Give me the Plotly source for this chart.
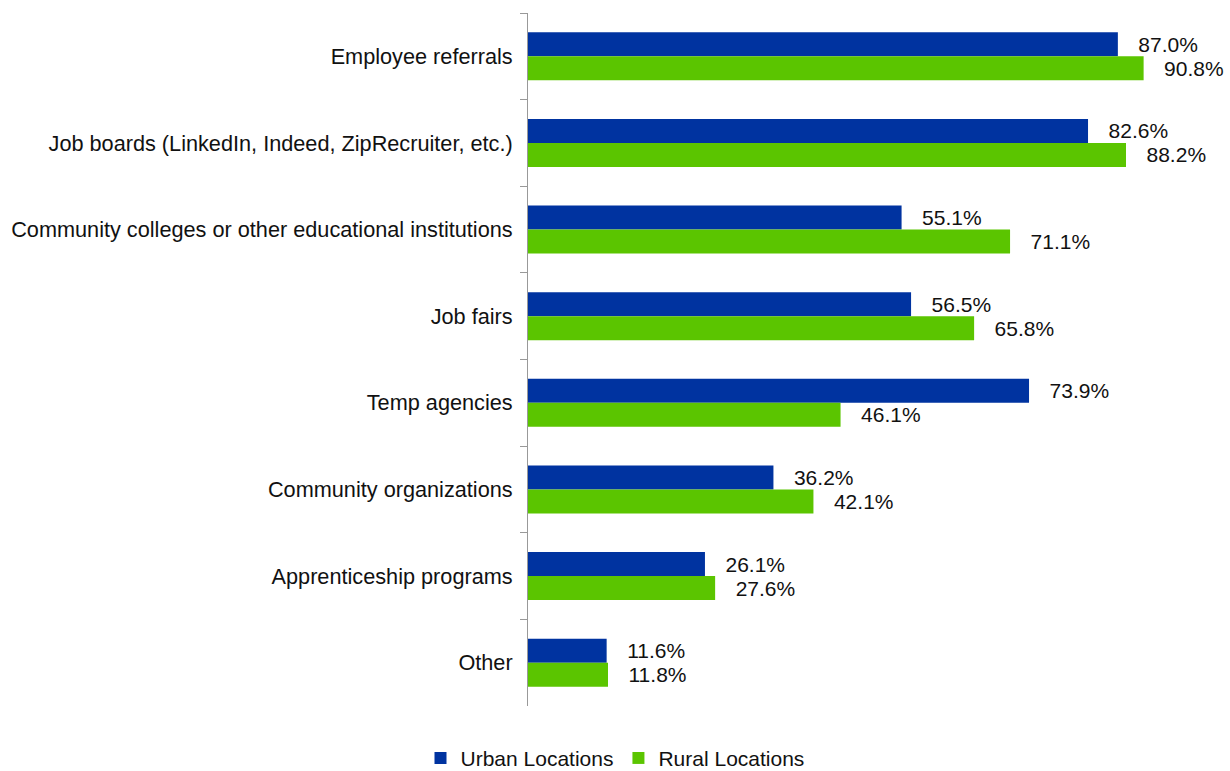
import plotly.graph_objects as go

categories = [
    "Employee referrals",
    "Job boards (LinkedIn, Indeed, ZipRecruiter, etc.)",
    "Community colleges or other educational institutions",
    "Job fairs",
    "Temp agencies",
    "Community organizations",
    "Apprenticeship programs",
    "Other",
]
urban = [87.0, 82.6, 55.1, 56.5, 73.9, 36.2, 26.1, 11.6]
rural = [90.8, 88.2, 71.1, 65.8, 46.1, 42.1, 27.6, 11.8]

BLUE = "#0033a0"
GREEN = "#5bc500"
FONT = "Liberation Sans, Arial, sans-serif"
FS = 21
PAD = "\u00a0\u00a0\u00a0"

fig = go.Figure()
for name, vals, color in [("Urban Locations", urban, BLUE), ("Rural Locations", rural, GREEN)]:
    fig.add_trace(go.Bar(
        y=categories, x=vals, orientation="h", name=name,
        marker=dict(color=color, line=dict(width=0)),
        text=[PAD + f"{v:.1f}%" for v in vals],
        textposition="outside", cliponaxis=False,
        textfont=dict(family=FONT, size=FS, color="#111111"),
    ))

fig.update_layout(
    width=1230, height=771,
    margin=dict(l=528, r=24, t=13, b=65),
    paper_bgcolor="white", plot_bgcolor="white",
    barmode="group", bargap=0.445, bargroupgap=0,
    font=dict(family=FONT, size=FS, color="#111111"),
    showlegend=True,
    legend=dict(
        orientation="h", xref="container", yref="container",
        x=0.5, xanchor="center", y=0.0165, yanchor="middle",
        font=dict(family=FONT, size=FS, color="#111111"),
        itemwidth=30, traceorder="normal",
    ),
    xaxis=dict(range=[0, 100], visible=False, showgrid=False, zeroline=False),
    yaxis=dict(
        autorange="reversed", showline=True, linecolor="#999999", linewidth=1,
        ticks="outside", tickson="boundaries", ticklen=7, tickcolor="#999999",
        showgrid=False, ticklabelstandoff=10,
        tickfont=dict(family=FONT, size=21.7, color="#111111"),
    ),
)

fig.write_html("out.html", config={"displayModeBar": False},
               post_script="document.body.style.margin='0';")
